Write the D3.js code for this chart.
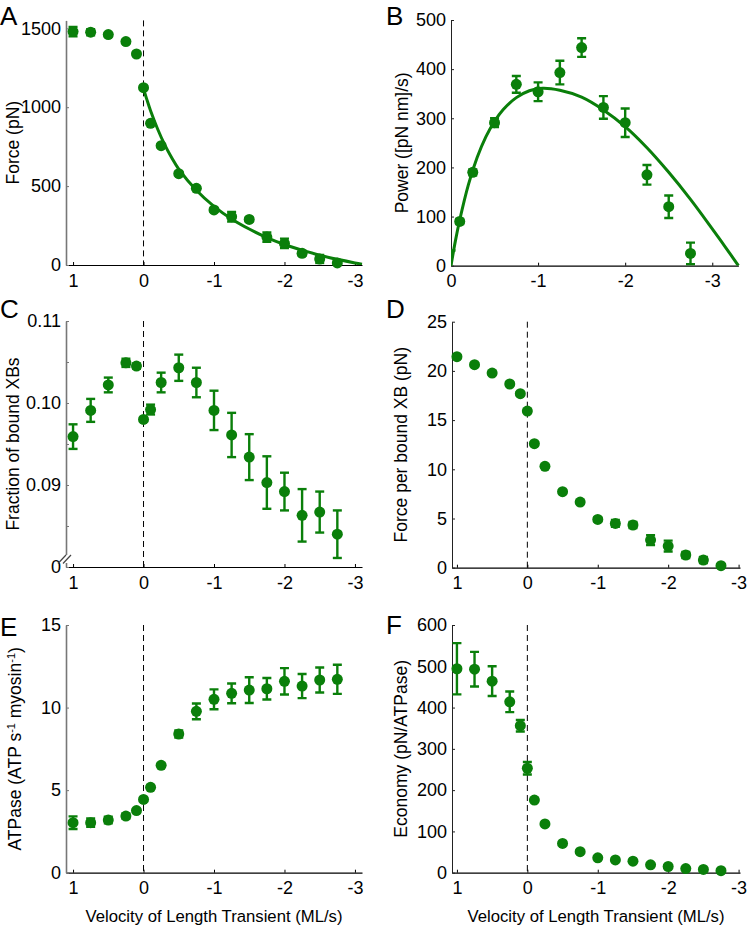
<!DOCTYPE html>
<html>
<head>
<meta charset="utf-8">
<script src="https://cdn.jsdelivr.net/npm/d3@7"></script>
<style>
  body { margin: 0; background: #fff; }
  text { font-family: Arial, "Liberation Sans", Helvetica, sans-serif; fill: #000; }
</style>
</head>
<body>
<script>
// velocity of the length transient (ML/s), same for panels A, C-F
var velocity = [1, 0.75, 0.5, 0.25, 0.1, 0, -0.1, -0.25, -0.5, -0.75, -1, -1.25, -1.5, -1.75, -2, -2.25, -2.5, -2.75];

// A: force (pN)
var force    = [1479, 1475, 1460, 1416, 1337, 1124, 898, 756, 579, 486, 349, 306, 289, 177, 137, 74, 38, 13];
var forceErr = [30, 20, 10, 10, 10, 10, 10, 10, 10, 10, 12, 30, 12, 30, 30, 15, 25, 12];
// A: fitted force-velocity curve
var forceFitV = [0, -0.05, -0.1, -0.2, -0.3, -0.4, -0.5, -0.75, -1, -1.25, -1.5, -1.75, -2, -2.25, -2.5, -2.75, -3, -3.1];
var forceFit  = [1118, 1045, 978, 862, 763, 680, 608, 474, 372, 292, 228, 174, 130, 94, 62, 36, 13, 5];

// B: power ([pN nm]/s)
var powerV   = [0, -0.1, -0.25, -0.5, -0.75, -1, -1.25, -1.5, -1.75, -2, -2.25, -2.5, -2.75];
var power    = [0, 90, 190, 291, 369, 354, 393, 444, 322, 291, 185, 120, 25];
var powerErr = [31, 5, 6, 9, 17, 19, 24, 19, 23, 29, 20, 23, 22];
var powerFitV = [0, -0.05, -0.1, -0.2, -0.3, -0.4, -0.5, -0.6, -0.75, -0.9, -1.05, -1.25, -1.5, -1.75, -2, -2.25, -2.5, -2.75, -3, -3.15, -3.3];
var powerFit  = [0, 50, 93, 165, 220, 262, 294, 318, 342, 356, 361, 357, 343, 317, 283, 240, 190, 135, 75, 38, 0];

// C: fraction of bound cross-bridges
var xbFrac    = [0.0959, 0.0991, 0.1022, 0.1049, 0.1045, 0.0980, 0.0992, 0.1025, 0.1043, 0.1025, 0.0991, 0.0961, 0.0934, 0.0903, 0.0892, 0.0863, 0.0867, 0.0840];
var xbFracErr = [0.0015, 0.0014, 0.0009, 0.0005, 0.0003, 0.0002, 0.0006, 0.0012, 0.0016, 0.0018, 0.0024, 0.0027, 0.0028, 0.0032, 0.0023, 0.0032, 0.0025, 0.0029];

// D: force per bound XB (pN)
var forcePerXB    = [21.44, 20.63, 19.78, 18.67, 17.68, 15.92, 12.6, 10.3, 7.72, 6.67, 4.91, 4.5, 4.34, 2.81, 2.2, 1.29, 0.78, 0.2];
var forcePerXBErr = [0.15, 0.15, 0.15, 0.15, 0.15, 0.15, 0.15, 0.15, 0.15, 0.15, 0.2, 0.35, 0.3, 0.5, 0.55, 0.3, 0.3, 0.15];

// E: ATPase (ATP s-1 myosin-1)
var atpase    = [3.03, 3.03, 3.19, 3.43, 3.76, 4.44, 5.17, 6.5, 8.4, 9.77, 10.5, 10.86, 11.06, 11.14, 11.59, 11.3, 11.67, 11.71];
var atpaseErr = [0.38, 0.25, 0.2, 0.15, 0.1, 0.1, 0.1, 0.1, 0.22, 0.48, 0.6, 0.6, 0.78, 0.65, 0.8, 0.73, 0.76, 0.88];

// F: economy (pN/ATPase)
var economy    = [494, 493, 464, 414, 356, 253, 176, 118, 71, 51, 36, 31, 28, 19, 15, 10, 8, 5];
var economyErr = [62, 42, 36, 25, 14, 15, 3, 2, 2, 2, 2, 2, 2, 2, 2, 1, 1, 1];

var xTicks = [1, 0, -1, -2, -3];

var green = '#0a7f0a';
var W = 749, H = 927;

var svg = d3.select('body').append('svg')
    .attr('width', W)
    .attr('height', H);

var clipCount = 0;

function drawPanel(p) {
  var x = d3.scaleLinear().domain(p.xDomain).range(p.xRange);
  var y = d3.scaleLinear().domain(p.yDomain).range(p.yRange);
  var g = svg.append('g');

  var id = 'clip' + (clipCount++);
  svg.append('clipPath').attr('id', id)
    .append('rect')
      .attr('x', p.xRange[0]).attr('y', p.yRange[1] - 10)
      .attr('width', p.xRange[1] - p.xRange[0] + 10)
      .attr('height', p.yRange[0] - p.yRange[1] + 10);

  // dashed line at zero velocity
  if (p.zeroLine) {
    g.append('line')
      .attr('x1', x(0)).attr('x2', x(0))
      .attr('y1', p.yRange[1]).attr('y2', p.yRange[0])
      .attr('stroke', '#000')
      .attr('stroke-width', 1)
      .attr('stroke-dasharray', '6,4');
  }

  var xAxis = d3.axisBottom(x)
      .tickValues(p.xTicks)
      .tickSize(-3)
      .tickSizeOuter(0)
      .tickPadding(9)
      .tickFormat(function(d) { return String(d); });

  var yAxis = d3.axisLeft(y)
      .tickValues(p.yTicks)
      .tickSize(-3)
      .tickSizeOuter(0)
      .tickPadding(5)
      .tickFormat(p.yFormat || function(d) { return String(d); });

  var gx = g.append('g')
      .attr('transform', 'translate(0,' + p.yRange[0] + ')')
      .call(xAxis);
  var gy = g.append('g')
      .attr('transform', 'translate(' + p.xRange[0] + ',0)')
      .call(yAxis);

  [gx, gy].forEach(function(a) {
    a.attr('font-family', null).attr('font-size', null);
    a.selectAll('text').style('font-size', '18px').attr('fill', '#000');
  });
  gx.select('.domain').attr('stroke', '#000').attr('stroke-width', 1.2);
  gx.selectAll('.tick line').attr('stroke', '#000');
  gy.select('.domain').attr('stroke', p.yAxisColor).attr('stroke-width', p.yAxisWidth);
  gy.selectAll('.tick line').attr('stroke', p.yAxisColor);

  // fitted curve
  var data = g.append('g').attr('clip-path', 'url(#' + id + ')');
  if (p.fitX) {
    var line = d3.line()
        .x(function(d, i) { return x(p.fitX[i]); })
        .y(function(d) { return y(d); })
        .curve(d3.curveCatmullRom.alpha(0.5));
    data.append('path')
      .attr('d', line(p.fitY))
      .attr('fill', 'none')
      .attr('stroke', green)
      .attr('stroke-width', 3);
  }

  // error bars
  var pts = p.xs.map(function(v, i) { return {v: v, val: p.ys[i], err: p.errs[i]}; });
  var eb = data.selectAll('g.eb').data(pts).enter().append('g').attr('class', 'eb')
      .attr('stroke', green).attr('stroke-width', 2.4);
  eb.append('line')
    .attr('x1', function(d) { return x(d.v); })
    .attr('x2', function(d) { return x(d.v); })
    .attr('y1', function(d) { return y(d.val - d.err); })
    .attr('y2', function(d) { return y(d.val + d.err); });
  [-1, 1].forEach(function(s) {
    eb.append('line')
      .attr('x1', function(d) { return x(d.v) - 4.5; })
      .attr('x2', function(d) { return x(d.v) + 4.5; })
      .attr('y1', function(d) { return y(d.val + s * d.err); })
      .attr('y2', function(d) { return y(d.val + s * d.err); });
  });

  // markers (the zero-power point at the origin shows only its bar)
  g.selectAll('circle.pt').data(pts.filter(function(d) { return !(p.skipZero && d.v === 0); }))
    .enter().append('circle').attr('class', 'pt')
      .attr('cx', function(d) { return x(d.v); })
      .attr('cy', function(d) { return y(d.val); })
      .attr('r', 5.5)
      .attr('fill', green);

  // y label
  var yl = svg.append('text')
      .attr('transform', 'translate(' + p.yLabelX + ',' + ((p.yRange[0] + p.yRange[1]) / 2) + ') rotate(-90)')
      .attr('text-anchor', 'middle')
      .style('font-size', '17.5px');
  p.yLabel.forEach(function(part) {
    var t = yl.append('tspan').text(part[0]);
    if (part[1]) t.attr('baseline-shift', 'super').style('font-size', '11px');
  });

  if (p.xLabel) {
    svg.append('text')
      .attr('x', (p.xRange[0] + p.xRange[1]) / 2)
      .attr('y', 922)
      .attr('text-anchor', 'middle')
      .style('font-size', '16.7px')
      .text('Velocity of Length Transient (ML/s)');
  }

  svg.append('text')
    .attr('x', p.letterX).attr('y', p.letterY)
    .style('font-size', '26px')
    .text(p.letter);

  return {x: x, y: y, g: g};
}

var leftX = {xDomain: [1.1, -3.1], xRange: [66, 362], yAxisColor: '#777', yAxisWidth: 1.6, yLabelX: 19, letterX: 0};
var rightX = {xDomain: [1.07, -3.02], xRange: [452, 740], yAxisColor: '#222', yAxisWidth: 1, yLabelX: 407, letterX: 386};

drawPanel(Object.assign({}, leftX, {
  letter: 'A', letterY: 25,
  yDomain: [0, 1550], yRange: [265, 20.4], yTicks: [0, 500, 1000, 1500],
  xTicks: xTicks, zeroLine: true,
  xs: velocity, ys: force, errs: forceErr,
  fitX: forceFitV, fitY: forceFit,
  yLabel: [['Force (pN)']]
}));

drawPanel({
  letter: 'B', letterX: 386, letterY: 25,
  xDomain: [0, -3.3], xRange: [451, 738.4],
  yDomain: [0, 500], yRange: [265.7, 20], yTicks: [0, 100, 200, 300, 400, 500],
  xTicks: [0, -1, -2, -3], zeroLine: false,
  yAxisColor: '#222', yAxisWidth: 1, yLabelX: 408,
  xs: powerV, ys: power, errs: powerErr, skipZero: true,
  fitX: powerFitV, fitY: powerFit,
  yLabel: [['Power ([pN nm]/s)']]
});

var panelC = drawPanel(Object.assign({}, leftX, {
  letter: 'C', letterY: 318,
  yDomain: [0.08, 0.11], yRange: [567, 321],
  yTicks: [0.08, 0.085, 0.09, 0.095, 0.10, 0.105, 0.11],
  yFormat: function(d) {
    if (Math.abs(d - 0.08) < 1e-9) return '0';
    if (Math.round(d * 1000) % 10 !== 0) return '';
    return d.toFixed(2);
  },
  xTicks: xTicks, zeroLine: true,
  xs: velocity, ys: xbFrac, errs: xbFracErr,
  yLabel: [['Fraction of bound XBs']]
}));

// axis break on panel C
panelC.g.append('rect')
  .attr('x', 60).attr('y', 555).attr('width', 12).attr('height', 8)
  .attr('fill', '#fff');
[0, 5].forEach(function(dx) {
  panelC.g.append('line')
    .attr('x1', 58 + dx).attr('y1', 563.5)
    .attr('x2', 66 + dx).attr('y2', 555)
    .attr('stroke', '#444').attr('stroke-width', 1.2);
});

drawPanel(Object.assign({}, rightX, {
  letter: 'D', letterY: 318,
  yDomain: [0, 25], yRange: [567.7, 321.7], yTicks: [0, 5, 10, 15, 20, 25],
  xTicks: xTicks, zeroLine: true,
  xs: velocity, ys: forcePerXB, errs: forcePerXBErr,
  yLabel: [['Force per bound XB (pN)']]
}));

drawPanel(Object.assign({}, leftX, {
  letter: 'E', letterY: 636, yLabelX: 21,
  yDomain: [0, 15], yRange: [872.7, 625], yTicks: [0, 5, 10, 15],
  xTicks: xTicks, zeroLine: true, xLabel: true,
  xs: velocity, ys: atpase, errs: atpaseErr,
  yLabel: [['ATPase (ATP s'], ['-1', true], [' myosin'], ['-1', true], [')']]
}));

drawPanel(Object.assign({}, rightX, {
  letter: 'F', letterY: 634,
  yDomain: [0, 600], yRange: [872.7, 625], yTicks: [0, 100, 200, 300, 400, 500, 600],
  xTicks: xTicks, zeroLine: true, xLabel: true,
  xs: velocity, ys: economy, errs: economyErr,
  yLabel: [['Economy (pN/ATPase)']]
}));
</script>
</body>
</html>
